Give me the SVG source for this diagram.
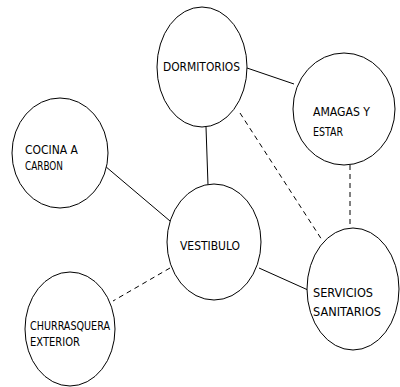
<svg xmlns="http://www.w3.org/2000/svg" width="400" height="387" viewBox="0 0 400 387">
<style>
.n{fill:#fff;stroke:#000;stroke-width:1}
.t{font-family:"DejaVu Sans Condensed","Liberation Sans",sans-serif;font-size:12.5px;fill:#000}
.c{stroke:#000;stroke-width:1;fill:none}
.d{stroke-dasharray:5 4}
</style>
<rect width="400" height="387" fill="#fff"/>
<g id="connectors">
<line class="c" x1="247" y1="68" x2="294" y2="84"/>
<line class="c d" x1="240" y1="113" x2="322" y2="240"/>
<line class="c" x1="206" y1="127" x2="208" y2="185"/>
<line class="c d" x1="350" y1="165" x2="350" y2="228"/>
<line class="c" x1="105" y1="166" x2="170" y2="221"/>
<line class="c" x1="259" y1="268" x2="308" y2="290"/>
<line class="c d" x1="170" y1="268" x2="113" y2="301"/>
</g>
<g id="dormitorios">
<ellipse class="n" cx="202" cy="67" rx="45" ry="60"/>
<text class="t" x="163" y="71" textLength="77" lengthAdjust="spacingAndGlyphs">DORMITORIOS</text>
</g>
<g id="amagas">
<ellipse class="n" cx="344" cy="109" rx="51" ry="56"/>
<text class="t" x="313" y="116" textLength="57" lengthAdjust="spacingAndGlyphs">AMAGAS Y</text>
<text class="t" x="313" y="136" textLength="30" lengthAdjust="spacingAndGlyphs">ESTAR</text>
</g>
<g id="cocina">
<ellipse class="n" cx="60" cy="153" rx="48" ry="55"/>
<text class="t" x="25" y="154" textLength="53" lengthAdjust="spacingAndGlyphs">COCINA A</text>
<text class="t" x="25" y="170" textLength="38" lengthAdjust="spacingAndGlyphs">CARBON</text>
</g>
<g id="vestibulo">
<ellipse class="n" cx="214" cy="242" rx="47" ry="58"/>
<text class="t" x="180" y="250" textLength="60" lengthAdjust="spacingAndGlyphs">VESTIBULO</text>
</g>
<g id="servicios">
<ellipse class="n" cx="353" cy="289" rx="46" ry="61"/>
<text class="t" x="313" y="297" textLength="60" lengthAdjust="spacingAndGlyphs">SERVICIOS</text>
<text class="t" x="313" y="316" textLength="68" lengthAdjust="spacingAndGlyphs">SANITARIOS</text>
</g>
<g id="churrasquera">
<ellipse class="n" cx="70" cy="329" rx="45" ry="57"/>
<text class="t" x="30" y="330" textLength="80" lengthAdjust="spacingAndGlyphs">CHURRASQUERA</text>
<text class="t" x="30" y="346" textLength="50" lengthAdjust="spacingAndGlyphs">EXTERIOR</text>
</g>
</svg>
